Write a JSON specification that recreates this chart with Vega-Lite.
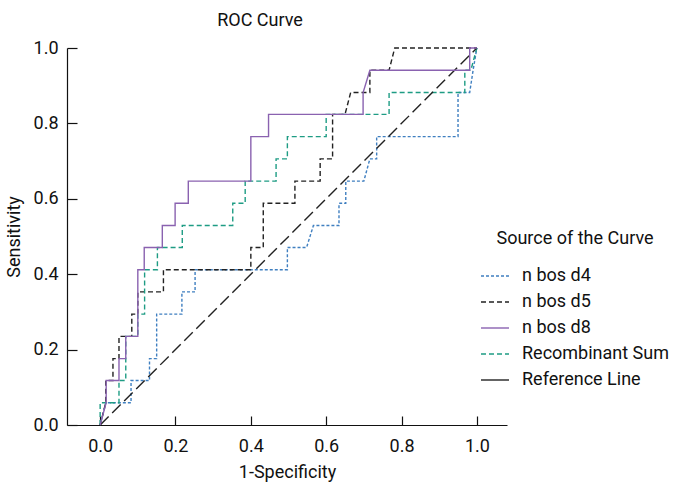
{
  "$schema": "https://vega.github.io/schema/vega-lite/v6.json",
  "autosize": "none",
  "width": 440,
  "height": 377,
  "padding": {"left": 67, "top": 48, "right": 175, "bottom": 69},
  "background": "white",
  "title": {"text": "ROC Curve", "font": "Roboto", "fontSize": 18, "fontWeight": "normal", "color": "#111", "anchor": "middle", "dx": -27, "offset": 9},
  "config": {"view": {"stroke": null}, "font": "Roboto"},
  "data": {"values": [
    {"s": "n bos d4", "i": 0, "x": 0, "y": 0},
    {"s": "n bos d4", "i": 1, "x": 0.015, "y": 0.059},
    {"s": "n bos d4", "i": 2, "x": 0.082, "y": 0.059},
    {"s": "n bos d4", "i": 3, "x": 0.082, "y": 0.118},
    {"s": "n bos d4", "i": 4, "x": 0.131, "y": 0.118},
    {"s": "n bos d4", "i": 5, "x": 0.131, "y": 0.176},
    {"s": "n bos d4", "i": 6, "x": 0.15, "y": 0.176},
    {"s": "n bos d4", "i": 7, "x": 0.15, "y": 0.294},
    {"s": "n bos d4", "i": 8, "x": 0.217, "y": 0.294},
    {"s": "n bos d4", "i": 9, "x": 0.217, "y": 0.353},
    {"s": "n bos d4", "i": 10, "x": 0.252, "y": 0.353},
    {"s": "n bos d4", "i": 11, "x": 0.252, "y": 0.412},
    {"s": "n bos d4", "i": 12, "x": 0.497, "y": 0.412},
    {"s": "n bos d4", "i": 13, "x": 0.497, "y": 0.471},
    {"s": "n bos d4", "i": 14, "x": 0.548, "y": 0.471},
    {"s": "n bos d4", "i": 15, "x": 0.566, "y": 0.529},
    {"s": "n bos d4", "i": 16, "x": 0.634, "y": 0.529},
    {"s": "n bos d4", "i": 17, "x": 0.634, "y": 0.588},
    {"s": "n bos d4", "i": 18, "x": 0.652, "y": 0.588},
    {"s": "n bos d4", "i": 19, "x": 0.652, "y": 0.647},
    {"s": "n bos d4", "i": 20, "x": 0.70, "y": 0.647},
    {"s": "n bos d4", "i": 21, "x": 0.716, "y": 0.706},
    {"s": "n bos d4", "i": 22, "x": 0.734, "y": 0.706},
    {"s": "n bos d4", "i": 23, "x": 0.734, "y": 0.765},
    {"s": "n bos d4", "i": 24, "x": 0.95, "y": 0.765},
    {"s": "n bos d4", "i": 25, "x": 0.95, "y": 0.882},
    {"s": "n bos d4", "i": 26, "x": 0.981, "y": 0.882},
    {"s": "n bos d4", "i": 27, "x": 0.99, "y": 0.941},
    {"s": "n bos d4", "i": 28, "x": 1, "y": 1},

    {"s": "n bos d5", "i": 0, "x": 0, "y": 0},
    {"s": "n bos d5", "i": 1, "x": 0.015, "y": 0.059},
    {"s": "n bos d5", "i": 2, "x": 0.015, "y": 0.118},
    {"s": "n bos d5", "i": 3, "x": 0.034, "y": 0.118},
    {"s": "n bos d5", "i": 4, "x": 0.034, "y": 0.176},
    {"s": "n bos d5", "i": 5, "x": 0.05, "y": 0.176},
    {"s": "n bos d5", "i": 6, "x": 0.05, "y": 0.235},
    {"s": "n bos d5", "i": 7, "x": 0.084, "y": 0.235},
    {"s": "n bos d5", "i": 8, "x": 0.084, "y": 0.294},
    {"s": "n bos d5", "i": 9, "x": 0.10, "y": 0.294},
    {"s": "n bos d5", "i": 10, "x": 0.10, "y": 0.353},
    {"s": "n bos d5", "i": 11, "x": 0.168, "y": 0.353},
    {"s": "n bos d5", "i": 12, "x": 0.168, "y": 0.412},
    {"s": "n bos d5", "i": 13, "x": 0.40, "y": 0.412},
    {"s": "n bos d5", "i": 14, "x": 0.40, "y": 0.471},
    {"s": "n bos d5", "i": 15, "x": 0.433, "y": 0.471},
    {"s": "n bos d5", "i": 16, "x": 0.433, "y": 0.588},
    {"s": "n bos d5", "i": 17, "x": 0.517, "y": 0.588},
    {"s": "n bos d5", "i": 18, "x": 0.517, "y": 0.647},
    {"s": "n bos d5", "i": 19, "x": 0.584, "y": 0.647},
    {"s": "n bos d5", "i": 20, "x": 0.584, "y": 0.706},
    {"s": "n bos d5", "i": 21, "x": 0.617, "y": 0.706},
    {"s": "n bos d5", "i": 22, "x": 0.617, "y": 0.824},
    {"s": "n bos d5", "i": 23, "x": 0.65, "y": 0.824},
    {"s": "n bos d5", "i": 24, "x": 0.665, "y": 0.882},
    {"s": "n bos d5", "i": 25, "x": 0.716, "y": 0.882},
    {"s": "n bos d5", "i": 26, "x": 0.716, "y": 0.941},
    {"s": "n bos d5", "i": 27, "x": 0.767, "y": 0.941},
    {"s": "n bos d5", "i": 28, "x": 0.782, "y": 1.0},
    {"s": "n bos d5", "i": 29, "x": 1, "y": 1},

    {"s": "n bos d8", "i": 0, "x": 0, "y": 0},
    {"s": "n bos d8", "i": 1, "x": 0.016, "y": 0.059},
    {"s": "n bos d8", "i": 2, "x": 0.016, "y": 0.118},
    {"s": "n bos d8", "i": 3, "x": 0.05, "y": 0.118},
    {"s": "n bos d8", "i": 4, "x": 0.05, "y": 0.176},
    {"s": "n bos d8", "i": 5, "x": 0.068, "y": 0.176},
    {"s": "n bos d8", "i": 6, "x": 0.068, "y": 0.235},
    {"s": "n bos d8", "i": 7, "x": 0.10, "y": 0.235},
    {"s": "n bos d8", "i": 8, "x": 0.10, "y": 0.412},
    {"s": "n bos d8", "i": 9, "x": 0.117, "y": 0.412},
    {"s": "n bos d8", "i": 10, "x": 0.117, "y": 0.471},
    {"s": "n bos d8", "i": 11, "x": 0.165, "y": 0.471},
    {"s": "n bos d8", "i": 12, "x": 0.165, "y": 0.529},
    {"s": "n bos d8", "i": 13, "x": 0.199, "y": 0.529},
    {"s": "n bos d8", "i": 14, "x": 0.199, "y": 0.588},
    {"s": "n bos d8", "i": 15, "x": 0.234, "y": 0.588},
    {"s": "n bos d8", "i": 16, "x": 0.234, "y": 0.647},
    {"s": "n bos d8", "i": 17, "x": 0.40, "y": 0.647},
    {"s": "n bos d8", "i": 18, "x": 0.40, "y": 0.765},
    {"s": "n bos d8", "i": 19, "x": 0.447, "y": 0.765},
    {"s": "n bos d8", "i": 20, "x": 0.447, "y": 0.824},
    {"s": "n bos d8", "i": 21, "x": 0.698, "y": 0.824},
    {"s": "n bos d8", "i": 22, "x": 0.698, "y": 0.882},
    {"s": "n bos d8", "i": 23, "x": 0.716, "y": 0.941},
    {"s": "n bos d8", "i": 24, "x": 0.981, "y": 0.941},
    {"s": "n bos d8", "i": 25, "x": 0.981, "y": 1.0},
    {"s": "n bos d8", "i": 26, "x": 1, "y": 1},

    {"s": "Recombinant Sum", "i": 0, "x": 0, "y": 0},
    {"s": "Recombinant Sum", "i": 1, "x": 0, "y": 0.059},
    {"s": "Recombinant Sum", "i": 2, "x": 0.05, "y": 0.059},
    {"s": "Recombinant Sum", "i": 3, "x": 0.05, "y": 0.118},
    {"s": "Recombinant Sum", "i": 4, "x": 0.068, "y": 0.118},
    {"s": "Recombinant Sum", "i": 5, "x": 0.068, "y": 0.235},
    {"s": "Recombinant Sum", "i": 6, "x": 0.10, "y": 0.235},
    {"s": "Recombinant Sum", "i": 7, "x": 0.10, "y": 0.294},
    {"s": "Recombinant Sum", "i": 8, "x": 0.118, "y": 0.294},
    {"s": "Recombinant Sum", "i": 9, "x": 0.118, "y": 0.412},
    {"s": "Recombinant Sum", "i": 10, "x": 0.152, "y": 0.412},
    {"s": "Recombinant Sum", "i": 11, "x": 0.152, "y": 0.471},
    {"s": "Recombinant Sum", "i": 12, "x": 0.218, "y": 0.471},
    {"s": "Recombinant Sum", "i": 13, "x": 0.218, "y": 0.529},
    {"s": "Recombinant Sum", "i": 14, "x": 0.352, "y": 0.529},
    {"s": "Recombinant Sum", "i": 15, "x": 0.352, "y": 0.588},
    {"s": "Recombinant Sum", "i": 16, "x": 0.385, "y": 0.588},
    {"s": "Recombinant Sum", "i": 17, "x": 0.385, "y": 0.647},
    {"s": "Recombinant Sum", "i": 18, "x": 0.467, "y": 0.647},
    {"s": "Recombinant Sum", "i": 19, "x": 0.467, "y": 0.706},
    {"s": "Recombinant Sum", "i": 20, "x": 0.497, "y": 0.706},
    {"s": "Recombinant Sum", "i": 21, "x": 0.497, "y": 0.765},
    {"s": "Recombinant Sum", "i": 22, "x": 0.60, "y": 0.765},
    {"s": "Recombinant Sum", "i": 23, "x": 0.60, "y": 0.824},
    {"s": "Recombinant Sum", "i": 24, "x": 0.767, "y": 0.824},
    {"s": "Recombinant Sum", "i": 25, "x": 0.767, "y": 0.882},
    {"s": "Recombinant Sum", "i": 26, "x": 0.968, "y": 0.882},
    {"s": "Recombinant Sum", "i": 27, "x": 0.968, "y": 0.941},
    {"s": "Recombinant Sum", "i": 28, "x": 0.984, "y": 0.941},
    {"s": "Recombinant Sum", "i": 29, "x": 1, "y": 1},

    {"s": "Reference Line", "i": 0, "x": 0, "y": 0},
    {"s": "Reference Line", "i": 1, "x": 1, "y": 1}
  ]},
  "encoding": {
    "x": {"field": "x", "type": "quantitative", "scale": {"domain": [-0.088, 1.08], "nice": false, "zero": false},
      "axis": {"title": "1-Specificity", "values": [0, 0.2, 0.4, 0.6, 0.8, 1.0], "format": ".1f", "grid": false,
        "domainColor": "#111", "domainWidth": 1.2, "tickColor": "#111", "tickWidth": 1.2, "tickSize": -9, "labelPadding": 21,
        "labelFont": "Roboto", "labelFontSize": 18, "labelColor": "#111",
        "titleFont": "Roboto", "titleFontSize": 18, "titleFontWeight": "normal", "titleColor": "#111", "titlePadding": 8}},
    "y": {"field": "y", "type": "quantitative", "scale": {"domain": [0, 1], "nice": false},
      "axis": {"title": "Sensitivity", "values": [0, 0.2, 0.4, 0.6, 0.8, 1.0], "format": ".1f", "grid": false,
        "domainColor": "#111", "domainWidth": 1.2, "tickColor": "#111", "tickWidth": 1.2, "tickSize": -10, "labelPadding": 19,
        "labelFont": "Roboto", "labelFontSize": 18, "labelColor": "#111",
        "titleFont": "Roboto", "titleFontSize": 18, "titleFontWeight": "normal", "titleColor": "#111", "titlePadding": 10}},
    "color": {"field": "s", "type": "nominal",
      "scale": {"domain": ["n bos d4", "n bos d5", "n bos d8", "Recombinant Sum", "Reference Line"],
                "range": ["#3f7fc0", "#222222", "#8a62b0", "#1e9c84", "#222222"]},
      "legend": {"title": "Source of the Curve", "orient": "none", "legendX": 413, "legendY": 182,
        "titleAnchor": "middle", "titleFont": "Roboto", "titleFontSize": 18, "titleFontWeight": "normal", "titleColor": "#111", "titlePadding": 13,
        "labelFont": "Roboto", "labelFontSize": 18, "labelColor": "#111", "labelOffset": 12,
        "symbolType": "stroke", "symbolSize": 784, "symbolStrokeWidth": 1.4, "rowPadding": 2,
        "encode": {"symbols": {"update": {"strokeDash": {"signal": "datum.value === 'n bos d4' ? [3, 2] : (datum.value === 'n bos d5' || datum.value === 'Recombinant Sum') ? [5, 3] : [30, 0]"}}}}}},
    "order": {"field": "i", "type": "quantitative"}
  },
  "layer": [
    {"transform": [{"filter": "datum.s === 'n bos d4'"}], "mark": {"type": "line", "strokeWidth": 1.4, "strokeDash": [3, 2]}},
    {"transform": [{"filter": "datum.s === 'n bos d5'"}], "mark": {"type": "line", "strokeWidth": 1.4, "strokeDash": [5, 3]}},
    {"transform": [{"filter": "datum.s === 'Recombinant Sum'"}], "mark": {"type": "line", "strokeWidth": 1.4, "strokeDash": [5, 3]}},
    {"transform": [{"filter": "datum.s === 'Reference Line'"}], "mark": {"type": "line", "strokeWidth": 1.4, "strokeDash": [12, 5]}},
    {"transform": [{"filter": "datum.s === 'n bos d8'"}], "mark": {"type": "line", "strokeWidth": 1.4}}
  ]
}
